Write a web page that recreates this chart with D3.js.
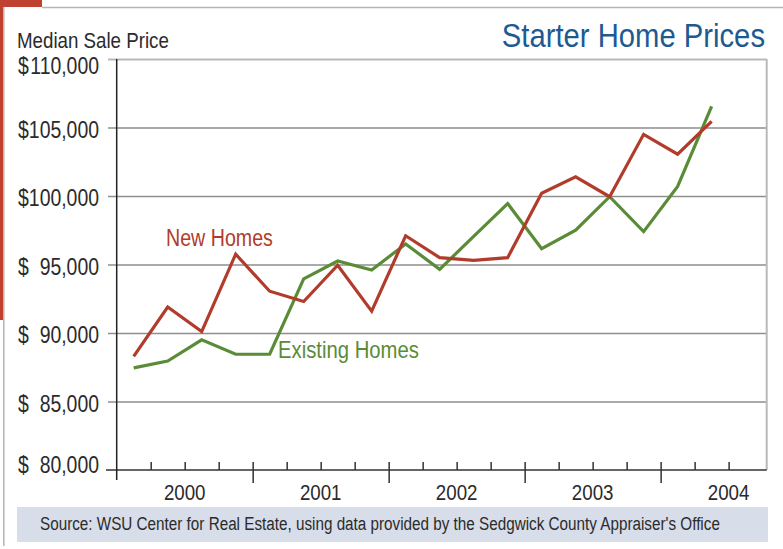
<!DOCTYPE html>
<html lang="en">
<head>
  <meta charset="UTF-8">
  <title>Starter Home Prices</title>
  <style>
    body { margin: 0; background: #fff; }
    svg { display: block; font-family: "Liberation Sans", Arial, sans-serif; }
  </style>
</head>
<body>
  <script src="https://d3js.org/d3.v7.min.js"></script>
  <script>
    const W = 783;
    const H = 549;

    // data (quarterly medians)
    const periods = ['2000 Q1','2000 Q2','2000 Q3','2000 Q4',
                     '2001 Q1','2001 Q2','2001 Q3','2001 Q4',
                     '2002 Q1','2002 Q2','2002 Q3','2002 Q4',
                     '2003 Q1','2003 Q2','2003 Q3','2003 Q4',
                     '2004 Q1','2004 Q2'];
    const newHomes = [88300, 91900, 90100, 95750, 93050, 92300, 94950, 91600, 97100,
                      95500, 95300, 95500, 100200, 101400, 99950, 104500, 103050, 105450];
    const existingHomes = [87450, 87950, 89500, 88450, 88450, 93950, 95250, 94600, 96500,
                           94650, 97050, 99450, 96150, 97500, 99950, 97400, 100700, 106550];
    const yearLabels = ['2000', '2001', '2002', '2003', '2004'];
    const priceTicks = [80000, 85000, 90000, 95000, 100000, 105000, 110000];

    const plot = {left: 116.7, right: 766.7, top: 59, bottom: 470};
    const RED = '#b23c2b';
    const GREEN = '#5a8c37';
    const TEXT = '#2b2b2b';

    // quarter label -> decimal year at the middle of the quarter
    const periodPos = p => {
      const [yr, q] = p.split(' Q');
      return +yr + (+q - 0.5) / 4;
    };

    const x = d3.scaleLinear().domain([2000, 2004.78]).range([plot.left, plot.right]);
    const y = d3.scaleLinear().domain([80000, 110000]).range([plot.bottom, plot.top]);

    const svg = d3.select('body').append('svg')
      .attr('width', W).attr('height', H)
      .attr('viewBox', `0 0 ${W} ${H}`);

    // no narrow font installed, so squeeze a regular one horizontally
    function label(parent, px, py, txt, size, fill, sx, anchor) {
      return parent.append('text')
        .attr('transform', `translate(${px},${py}) scale(${sx},1)`)
        .attr('font-size', size).attr('fill', fill)
        .attr('text-anchor', anchor || 'start')
        .text(txt);
    }

    // page frame: red corner accent and grey rules
    svg.append('rect').attr('x', 0).attr('y', 0).attr('width', 42).attr('height', 7).attr('fill', '#c0412f');
    svg.append('rect').attr('x', 0).attr('y', 0).attr('width', 3).attr('height', 320).attr('fill', '#c0412f');
    svg.append('line').attr('x1', 42).attr('x2', W).attr('y1', 7.5).attr('y2', 7.5)
      .attr('stroke', '#b5b5b5').attr('stroke-width', 1.5);
    svg.append('line').attr('x1', 3.8).attr('x2', 3.8).attr('y1', 7).attr('y2', 546)
      .attr('stroke', '#b5b5b5').attr('stroke-width', 1.5);

    // titles
    label(svg, 765, 47, 'Starter Home Prices', 32.5, '#1d5a92', 0.9, 'end');
    label(svg, 17, 48, 'Median Sale Price', 22.4, TEXT, 0.836);

    // horizontal grid via the axis generator
    const grid = svg.append('g').attr('transform', `translate(${plot.left},0)`)
      .call(d3.axisLeft(y).tickValues(priceTicks.slice(1)).tickSize(-(plot.right - plot.left)).tickFormat(''));
    grid.select('.domain').remove();
    grid.selectAll('.tick line').attr('stroke', '#8e8e8e').attr('stroke-width', 1.5).attr('x1', -(plot.left - 108));
    grid.selectAll('.tick').filter(d => d === 110000).select('line').attr('stroke', '#b9b9b9').attr('stroke-width', 2);

    // right border of the plot
    svg.append('line').attr('x1', plot.right).attr('x2', plot.right).attr('y1', plot.top).attr('y2', plot.bottom)
      .attr('stroke', '#b9b9b9').attr('stroke-width', 2);

    // y labels: dollar sign flush left, number flush right
    const yLab = svg.append('g');
    priceTicks.forEach(v => {
      const by = Math.max(74, Math.min(473, y(v) + 10));
      label(yLab, 18, by, '$', 23.3, TEXT, 0.833);
      label(yLab, 99, by, d3.format(',')(v), 23.3, TEXT, 0.833, 'end');
    });

    // x axis: quarter ticks, year ticks longer
    const quarterTicks = d3.range(1, 19).map(i => 2000 + i / 4);
    const xAxis = svg.append('g').attr('transform', `translate(0,${plot.bottom})`)
      .call(d3.axisBottom(x).tickValues(quarterTicks).tickSize(0).tickFormat(''));
    xAxis.select('.domain').remove();
    xAxis.selectAll('.tick line')
      .attr('stroke', '#333').attr('stroke-width', 1.5)
      .attr('y1', -8)
      .attr('y2', d => Number.isInteger(d) ? 13 : 0);

    svg.append('line').attr('x1', 106).attr('x2', plot.right).attr('y1', plot.bottom).attr('y2', plot.bottom)
      .attr('stroke', '#333').attr('stroke-width', 1.5);
    svg.append('line').attr('x1', plot.left).attr('x2', plot.left).attr('y1', plot.top).attr('y2', 480)
      .attr('stroke', '#222').attr('stroke-width', 1.5);

    const yearG = svg.append('g');
    yearLabels.forEach(d => label(yearG, x(+d + 0.5), 500, d, 21.5, TEXT, 0.87, 'middle'));

    // series
    const line = d3.line().x((d, i) => x(periodPos(periods[i]))).y(d => y(d));
    svg.append('path').datum(existingHomes).attr('d', line)
      .attr('fill', 'none').attr('stroke', GREEN).attr('stroke-width', 3.2).attr('stroke-linejoin', 'miter');
    svg.append('path').datum(newHomes).attr('d', line)
      .attr('fill', 'none').attr('stroke', RED).attr('stroke-width', 3.2).attr('stroke-linejoin', 'miter');

    label(svg, 166, 246, 'New Homes', 23.3, RED, 0.843);
    label(svg, 278, 358, 'Existing Homes', 23.3, GREEN, 0.871);

    // source box
    svg.append('rect').attr('x', 17).attr('y', 507).attr('width', 751).attr('height', 35).attr('fill', '#d7dde9');
    label(svg, 40, 530, "Source: WSU Center for Real Estate, using data provided by the Sedgwick County Appraiser's Office",
      18, TEXT, 0.848);
  </script>
</body>
</html>
